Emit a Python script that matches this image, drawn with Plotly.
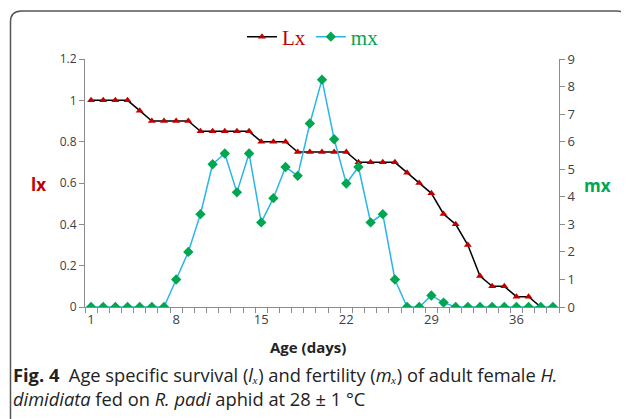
import plotly.graph_objects as go

days = list(range(1, 40))
lx = [1.0, 1.0, 1.0, 1.0, 0.95, 0.9, 0.9, 0.9, 0.9, 0.85,
      0.85, 0.85, 0.85, 0.85, 0.8, 0.8, 0.8, 0.75, 0.75, 0.75,
      0.75, 0.75, 0.7, 0.7, 0.7, 0.7, 0.65, 0.6, 0.55, 0.45,
      0.4, 0.3, 0.15, 0.1, 0.1, 0.05, 0.05, 0.0, None]
mx = [0, 0, 0, 0, 0, 0, 0, 1.0, 2.0, 3.37,
      5.18, 5.57, 4.16, 5.57, 3.07, 3.95, 5.08, 4.76, 6.66, 8.25,
      6.09, 4.48, 5.08, 3.07, 3.37, 1.0, 0, 0, 0.42, 0.16,
      0, 0, 0, 0, 0, 0, 0, 0, 0]
x_tick_labels = [1, 8, 15, 22, 29, 36]
lx_ticks = [0, 0.2, 0.4, 0.6, 0.8, 1.0, 1.2]
mx_ticks = list(range(0, 10))

OFF = 8  # page body margin
W, H = 629 - OFF, 419 - OFF
L, R, T, B = 85 - OFF, 70, 59 - OFF, 112
PW, PH = W - L - R, H - T - B


def px(x):
    return (x - OFF - L) / PW


def py(y):
    return (H - B - (y - OFF)) / PH


RED = "#C00000"
GREEN = "#00A651"
BLUE = "#29B5E8"
TICKC = "#404040"
AXC = "#8C8C8C"

fig = go.Figure()
fig.add_trace(go.Scatter(
    x=days, y=lx, mode="lines+markers",
    name="<span style='color:%s'>Lx</span>" % RED,
    line=dict(color="black", width=1.5),
    marker=dict(symbol="triangle-up", size=7, color=RED),
    yaxis="y"))
fig.add_trace(go.Scatter(
    x=days, y=mx, mode="lines+markers",
    name="<span style='color:%s'>mx</span>" % GREEN,
    line=dict(color=BLUE, width=1.5),
    marker=dict(symbol="diamond", size=8, color=GREEN),
    yaxis="y2"))

fig.update_layout(
    width=W, height=H,
    margin=dict(l=L, r=R, t=T, b=B, autoexpand=False),
    paper_bgcolor="white", plot_bgcolor="white",
    font=dict(family="Open Sans", size=12, color=TICKC),
    showlegend=True,
    legend=dict(orientation="h", x=px(313), xanchor="center", y=py(37), yanchor="middle",
                font=dict(family="Liberation Serif", size=21),
                itemwidth=30, bgcolor="rgba(0,0,0,0)"),
    xaxis=dict(range=[0.5, 39.5], tickmode="array", tickvals=x_tick_labels,
               ticktext=[str(v) for v in x_tick_labels], ticks="", showgrid=False,
               zeroline=False, showline=True, linecolor=AXC, linewidth=1,
               tickfont=dict(size=13, color=TICKC),
               minor=dict(tick0=0.5, dtick=1, ticks="outside", ticklen=5,
                          tickcolor=AXC, tickwidth=1, showgrid=False)),
    yaxis=dict(range=[0, 1.2], tickmode="array", tickvals=lx_ticks,
               ticktext=["0", "0.2", "0.4", "0.6", "0.8", "1", "1.2"],
               ticks="outside", ticklen=5, tickcolor=AXC, showgrid=False,
               zeroline=False, showline=True, linecolor=AXC, linewidth=1,
               tickfont=dict(size=12, color=TICKC)),
    yaxis2=dict(range=[0, 9], tickmode="array", tickvals=mx_ticks,
                overlaying="y", side="right", anchor="x",
                ticks="outside", ticklen=5, tickcolor=AXC, showgrid=False,
                zeroline=False, showline=True, linecolor=AXC, linewidth=1,
                tickfont=dict(size=13, color=TICKC)),
)

ann = [
    dict(x=px(38), y=py(184), text="<b>lx</b>", font=dict(family="Open Sans", size=17, color=RED)),
    dict(x=px(597), y=py(185), text="<b>mx</b>", font=dict(family="Open Sans", size=17, color=GREEN)),
    dict(x=px(308), y=py(347), text="<b>Age (days)</b>", font=dict(family="Open Sans", size=15, color="#222222")),
]
for a in ann:
    fig.add_annotation(xref="paper", yref="paper", showarrow=False,
                       xanchor="center", yanchor="middle", **a)

fig.add_annotation(xref="paper", yref="paper", showarrow=False, xanchor="left", yanchor="middle",
                   align="left", x=px(11), y=py(386),
                   text="<b>Fig. 4</b>  Age specific survival (<i>lₓ</i>) and fertility (<i>mₓ</i>) of adult female <i>H.</i><br>"
                        "<i>dimidiata</i> fed on <i>R. padi</i> aphid at 28 ± 1 °C",
                   font=dict(family="Open Sans", size=18.3, color="#222222"))

path = "M %f,%f L %f,%f Q %f,%f %f,%f L %f,%f Q %f,%f %f,%f L %f,%f" % (
    px(10.5), py(430), px(10.5), py(22),
    px(10.5), py(11), px(21.5), py(11),
    px(617), py(11),
    px(628), py(11), px(628), py(22),
    px(628), py(430))
fig.add_shape(type="path", xref="paper", yref="paper", path=path,
              line=dict(color="#555555", width=1.5))

fig.write_html("out.html")
